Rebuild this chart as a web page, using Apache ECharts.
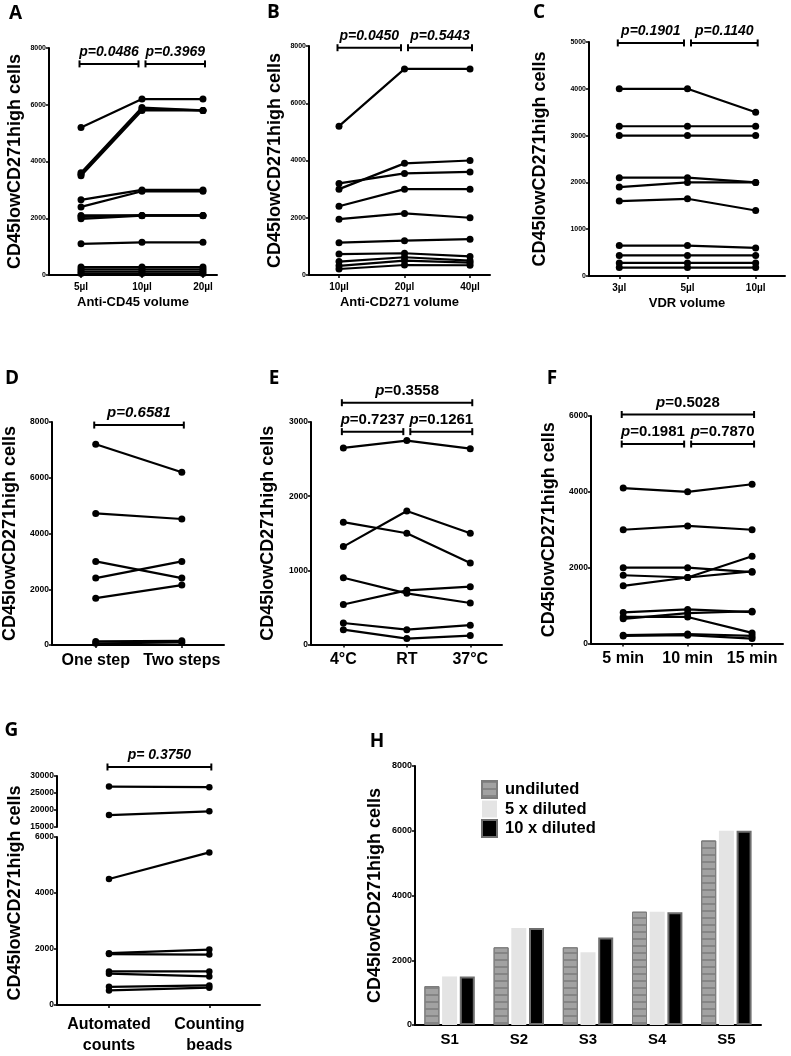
<!DOCTYPE html>
<html>
<head>
<meta charset="utf-8">
<title>CD45lowCD271high cells</title>
<script src="https://cdn.jsdelivr.net/npm/echarts@6.0.0/dist/echarts.min.js"></script>
<style>
html,body{margin:0;padding:0;background:#fff;}
#chart{width:791px;height:1056px;}
</style>
</head>
<body>
<div id="chart"></div>
<script>
// ---------------- DATA ----------------
const yTitle = 'CD45lowCD271high cells';

const catsA = ['5µl', '10µl', '20µl'];
const valuesA = [
  [5200, 6200, 6200], [3600, 5900, 5800], [3550, 5850, 5800], [3500, 5800, 5800],
  [2650, 3000, 3000], [2400, 2950, 2950], [2100, 2100, 2100], [2050, 2100, 2100],
  [1980, 2090, 2090], [1100, 1150, 1150], [280, 280, 280], [200, 200, 200],
  [120, 120, 120], [50, 50, 50]
];
const pA = ['p=0.0486', 'p=0.3969'];

const catsB = ['10µl', '20µl', '40µl'];
const valuesB = [
  [5200, 7200, 7200], [3200, 3550, 3600], [3000, 3900, 4000], [2400, 3000, 3000],
  [1950, 2150, 2000], [1130, 1200, 1250], [730, 760, 650], [470, 620, 500],
  [320, 500, 430], [210, 350, 340]
];
const pB = ['p=0.0450', 'p=0.5443'];

const catsC = ['3µl', '5µl', '10µl'];
const valuesC = [
  [4000, 4000, 3500], [3200, 3200, 3200], [3000, 3000, 3000], [2100, 2100, 2000],
  [1900, 2000, 2000], [1600, 1650, 1400], [650, 650, 600], [440, 440, 440],
  [280, 280, 280], [180, 180, 180]
];
const pC = ['p=0.1901', 'p=0.1140'];

const catsD = ['One step', 'Two steps'];
const valuesD = [
  [7200, 6200], [4720, 4520], [3000, 2400], [2400, 3000], [1680, 2150], [130, 150], [60, 90]
];
const pD = ['p=0.6581'];

const catsE = ['4°C', 'RT', '37°C'];
const valuesE = [
  [2650, 2750, 2640], [1650, 1500, 1100], [1320, 1800, 1500], [900, 690, 560],
  [540, 730, 780], [290, 200, 260], [200, 80, 120]
];
const pE = ['0.3558', '0.7237', '0.1261'];

const catsF = ['5 min', '10 min', '15 min'];
const valuesF = [
  [4100, 4000, 4200], [3000, 3100, 3000], [2000, 2000, 1880], [1800, 1740, 1900],
  [1520, 1740, 2300], [820, 900, 830], [650, 800, 850], [700, 700, 280],
  [220, 250, 200], [200, 220, 130]
];
const pF = ['0.5028', '0.1981', '0.7870'];

const catsG = ['Automated\ncounts', 'Counting\nbeads'];
const valuesGHigh = [[26900, 26700], [18500, 19600]];
const valuesGLow = [
  [4500, 5450], [1850, 1980], [1820, 1800], [1200, 1200], [1120, 1020], [650, 700], [520, 620]
];
const pG = ['p= 0.3750'];

const catsH = ['S1', 'S2', 'S3', 'S4', 'S5'];
const seriesNamesH = ['undiluted', '5 x diluted', '10 x diluted'];
const undiluted = [1200, 2400, 2400, 3500, 5700];
const diluted5 = [1500, 3000, 2250, 3500, 6000];
const diluted10 = [1500, 3000, 2700, 3480, 6000];

// ---------------- STYLE / LAYOUT ----------------
const FONT = '"Liberation Sans", Arial, sans-serif';
const NARROW = '"Liberation Sans Narrow", "Liberation Sans", Arial, sans-serif';
const LETTER_FONT = 'bold 19px "Open Sans", "Liberation Sans", sans-serif';
const plain = v => String(v);

const option = {
  backgroundColor: '#fff',
  animation: false,
  grid: [], xAxis: [], yAxis: [], series: [], graphic: []
};

function bracketSeries(gi, list, ncat, richP, fs) {
  return {
    type: 'custom', xAxisIndex: gi, yAxisIndex: gi, clip: false, silent: true, z: 10,
    data: list.map(b => [b.from, b.to, b.level]),
    renderItem: function (params, api) {
      const b = list[params.dataIndex];
      const a = api.coord([api.value(0), api.value(2)]);
      const c = api.coord([api.value(1), api.value(2)]);
      const x1 = a[0] + (b.from === 0 ? -1.5 : 3.5);
      const x2 = c[0] + (b.to === ncat - 1 ? 2 : -3.5);
      const y = a[1];
      const ls = { stroke: '#000', lineWidth: 2 };
      const textStyle = richP ? {
        text: '{i|p}=' + b.text, fill: '#000', fontSize: fs, fontWeight: 'bold', fontFamily: FONT,
        align: 'center', verticalAlign: 'middle',
        rich: { i: { fontStyle: 'italic', fontWeight: 'bold', fontSize: fs, fontFamily: FONT, fill: '#000' } }
      } : {
        text: b.text, fill: '#000', fontSize: fs, fontWeight: 'bold', fontStyle: 'italic', fontFamily: FONT,
        align: 'center', verticalAlign: 'middle'
      };
      return {
        type: 'group', children: [
          { type: 'line', shape: { x1: x1, y1: y, x2: x2, y2: y }, style: ls },
          { type: 'line', shape: { x1: x1, y1: y - 3.5, x2: x1, y2: y + 3.5 }, style: ls },
          { type: 'line', shape: { x1: x2, y1: y - 3.5, x2: x2, y2: y + 3.5 }, style: ls },
          { type: 'text', x: (x1 + x2) / 2, y: y - 12, style: textStyle }
        ]
      };
    }
  };
}

function addLinePanel(p) {
  const gi = option.grid.length;
  option.grid.push({ left: p.left, top: p.top, width: p.width, height: p.height });
  const idx = p.cats.map((c, i) => i);
  option.xAxis.push({
    type: 'value', gridIndex: gi, min: p.xmin, max: p.xmax, show: p.showX !== false,
    splitLine: { show: false },
    axisLine: { show: true, onZero: false, lineStyle: { color: '#000', width: 2 } },
    axisTick: { show: true, customValues: idx, length: 3, lineStyle: { color: '#000', width: 1.5 } },
    axisLabel: {
      customValues: idx, formatter: v => p.cats[Math.round(v)], margin: p.xMargin,
      fontSize: p.xFont, fontWeight: 'bold', color: '#000', fontFamily: FONT, lineHeight: p.xLineHeight || null
    },
    name: p.xName || '', nameLocation: 'middle', nameGap: 21,
    nameTextStyle: { fontSize: 13, fontWeight: 'bold', color: '#000', fontFamily: FONT }
  });
  option.yAxis.push({
    type: 'value', gridIndex: gi, min: p.ymin, max: p.ymax, interval: p.yint,
    splitLine: { show: false },
    axisLine: { show: true, onZero: false, lineStyle: { color: '#000', width: 2 } },
    axisTick: { show: true, length: 3, lineStyle: { color: '#000', width: 1.5 } },
    axisLabel: { formatter: plain, fontSize: p.yFont, fontWeight: 'bold', color: '#000', margin: 3, fontFamily: NARROW },
    name: p.yName || '', nameLocation: 'middle', nameRotate: 90, nameGap: p.yNameGap || 25,
    nameTextStyle: { fontSize: 18, fontWeight: 'bold', color: '#000', fontFamily: FONT }
  });
  p.rows.forEach(r => option.series.push({
    type: 'line', xAxisIndex: gi, yAxisIndex: gi, clip: false, silent: true,
    data: r.map((v, i) => [i, v]), symbol: 'circle', symbolSize: p.sym,
    lineStyle: { color: '#000', width: p.lw }, itemStyle: { color: '#000' }
  }));
  if (p.brackets) option.series.push(bracketSeries(gi, p.brackets, p.cats.length, p.richP, p.pFont));
  return gi;
}

// Panel A
addLinePanel({
  left: 49, top: 48, width: 168, height: 227, xmin: -0.525, xmax: 2.23,
  ymin: 0, ymax: 8000, yint: 2000, cats: catsA, rows: valuesA, sym: 7, lw: 2.2,
  xFont: 10, xMargin: 7, yFont: 7, xName: 'Anti-CD45 volume', yName: yTitle, yNameGap: 25,
  pFont: 14, brackets: [{ from: 0, to: 1, level: 7440, text: pA[0] }, { from: 1, to: 2, level: 7440, text: pA[1] }]
});
// Panel B
addLinePanel({
  left: 309, top: 46, width: 181, height: 229, xmin: -0.458, xmax: 2.305,
  ymin: 0, ymax: 8000, yint: 2000, cats: catsB, rows: valuesB, sym: 7, lw: 2.2,
  xFont: 10, xMargin: 7, yFont: 7, xName: 'Anti-CD271 volume', yName: yTitle, yNameGap: 25,
  pFont: 14, brackets: [{ from: 0, to: 1, level: 7940, text: pB[0] }, { from: 1, to: 2, level: 7940, text: pB[1] }]
});
// Panel C
addLinePanel({
  left: 589, top: 42, width: 196, height: 234, xmin: -0.444, xmax: 2.43,
  ymin: 0, ymax: 5000, yint: 1000, cats: catsC, rows: valuesC, sym: 7, lw: 2.2,
  xFont: 10, xMargin: 7, yFont: 7, xName: 'VDR volume', yName: yTitle, yNameGap: 40,
  pFont: 14, brackets: [{ from: 0, to: 1, level: 4980, text: pC[0] }, { from: 1, to: 2, level: 4980, text: pC[1] }]
});
// Panel D
addLinePanel({
  left: 52, top: 422, width: 172, height: 223, xmin: -0.508, xmax: 1.49,
  ymin: 0, ymax: 8000, yint: 2000, cats: catsD, rows: valuesD, sym: 7, lw: 2.2,
  xFont: 16, xMargin: 8, yFont: 8.5, yName: yTitle, yNameGap: 33,
  pFont: 15, brackets: [{ from: 0, to: 1, level: 7890, text: pD[0] }]
});
// Panel E
addLinePanel({
  left: 311, top: 422, width: 191, height: 222.5, xmin: -0.51, xmax: 2.5,
  ymin: 0, ymax: 3000, yint: 1000, cats: catsE, rows: valuesE, sym: 7, lw: 2.2,
  xFont: 16, xMargin: 7, yFont: 8.5, yName: yTitle, yNameGap: 34,
  pFont: 15, richP: true,
  brackets: [{ from: 0, to: 2, level: 3260, text: pE[0] }, { from: 0, to: 1, level: 2870, text: pE[1] }, { from: 1, to: 2, level: 2870, text: pE[2] }]
});
// Panel F
addLinePanel({
  left: 591, top: 416, width: 192, height: 227.5, xmin: -0.5, xmax: 2.48,
  ymin: 0, ymax: 6000, yint: 2000, cats: catsF, rows: valuesF, sym: 7, lw: 2.2,
  xFont: 16, xMargin: 7, yFont: 8.5, yName: yTitle, yNameGap: 33,
  pFont: 15, richP: true,
  brackets: [{ from: 0, to: 2, level: 6040, text: pF[0] }, { from: 0, to: 1, level: 5260, text: pF[1] }, { from: 1, to: 2, level: 5260, text: pF[2] }]
});
// Panel G (broken axis: upper and lower parts)
addLinePanel({
  left: 57, top: 776, width: 203, height: 51, xmin: -0.518, xmax: 1.505, showX: false,
  ymin: 15000, ymax: 30000, yint: 5000, cats: catsG, rows: valuesGHigh, sym: 6.5, lw: 2.2,
  xFont: 16, xMargin: 10, yFont: 8.5,
  pFont: 14, brackets: [{ from: 0, to: 1, level: 32650, text: pG[0] }]
});
addLinePanel({
  left: 57, top: 837, width: 203, height: 170, xmin: -0.518, xmax: 1.505,
  ymin: 0, ymax: 6000, yint: 2000, cats: catsG, rows: valuesGLow, sym: 6.5, lw: 2.2,
  xFont: 16, xMargin: 9, xLineHeight: 21, yFont: 8.5
});

// Panel H (bars)
const gH = option.grid.length;
option.grid.push({ left: 415, top: 766, width: 346, height: 259 });
option.xAxis.push({
  type: 'category', gridIndex: gH, data: catsH,
  axisLine: { lineStyle: { color: '#000', width: 2 } }, axisTick: { show: false },
  axisLabel: { fontSize: 15, fontWeight: 'bold', color: '#000', margin: 7, fontFamily: FONT }
});
option.yAxis.push({
  type: 'value', gridIndex: gH, min: 0, max: 8000, interval: 2000, splitLine: { show: false },
  axisLine: { show: true, lineStyle: { color: '#000', width: 2 } },
  axisTick: { show: true, length: 3, lineStyle: { color: '#000', width: 1.5 } },
  axisLabel: { formatter: plain, fontSize: 9, fontWeight: 'bold', color: '#000', margin: 3, fontFamily: NARROW },
  name: yTitle, nameLocation: 'middle', nameRotate: 90, nameGap: 31,
  nameTextStyle: { fontSize: 18, fontWeight: 'bold', color: '#000', fontFamily: FONT }
});
const barStyles = [
  { color: '#a2a2a2', borderColor: '#7c7c7c', borderWidth: 1,
    decal: { symbol: 'rect', symbolSize: 1, dashArrayX: [1, 0], dashArrayY: [2, 5], rotation: 0, color: '#858585' } },
  { color: '#e4e4e4', borderWidth: 0 },
  { color: '#000', borderColor: '#6e6e6e', borderWidth: 2 }
];
[undiluted, diluted5, diluted10].forEach((vals, k) => option.series.push({
  type: 'bar', name: seriesNamesH[k], xAxisIndex: gH, yAxisIndex: gH, data: vals,
  barWidth: 15, barGap: '18%', itemStyle: barStyles[k], silent: true
}));
option.legend = {
  left: 481, top: 780, padding: 0, orient: 'vertical', itemWidth: 15, itemHeight: 17, itemGap: 1.5,
  icon: 'rect', data: seriesNamesH, selectedMode: false,
  textStyle: { fontSize: 16.5, fontWeight: 'bold', color: '#000', fontFamily: FONT, padding: [0, 0, 0, 3] }
};

// Panel letters and G's y title
const letters = [['A', 15.5, 14], ['B', 273.5, 13], ['C', 539, 13], ['D', 12, 379], ['E', 274, 378.5],
                 ['F', 552, 378.5], ['G', 11.5, 731], ['H', 377, 742]];
letters.forEach(l => option.graphic.push({
  type: 'text', x: l[1], y: l[2], style: { text: l[0], font: LETTER_FONT, fill: '#000', align: 'center', verticalAlign: 'middle' }
}));
option.graphic.push({
  type: 'text', x: 15, y: 893, rotation: Math.PI / 2,
  style: { text: yTitle, font: 'bold 18px "Liberation Sans", Arial, sans-serif', fill: '#000', align: 'center', verticalAlign: 'middle' }
});

const chart = echarts.init(document.getElementById('chart'), null, { renderer: 'canvas' });
chart.setOption(option);
</script>
</body>
</html>
